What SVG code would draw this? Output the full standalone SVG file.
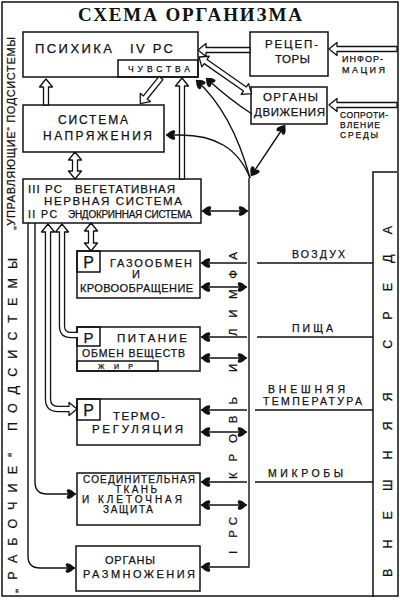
<svg xmlns="http://www.w3.org/2000/svg" width="400" height="600" viewBox="0 0 400 600">
<style>
.b{fill:none;stroke:#111;stroke-width:1.5}
.t{font-family:"Liberation Sans","DejaVu Sans",sans-serif;fill:#111;stroke:#111;stroke-width:0.25}
.l{fill:none;stroke:#111;stroke-width:1.4}
.h{fill:#fff;stroke:#111;stroke-width:1.3;stroke-linejoin:round}
.hs{fill:none;stroke:#111;stroke-width:6.4}
.hi{fill:none;stroke:#fff;stroke-width:3.8}
</style>
<defs>
<marker id="ar" viewBox="-10 -6 11 12" refX="0" refY="0" markerWidth="11" markerHeight="12" markerUnits="userSpaceOnUse" orient="auto-start-reverse">
<path d="M0,0 C-2,-2 -5,-5 -8,-4.8 C-10,-4.5 -9.5,-1.5 -7,0 C-9.5,1.5 -10,4.5 -8,4.8 C-5,5 -2,2 0,0 Z" fill="#111"/>
</marker>
</defs>
<rect x="2" y="2" width="396" height="594" class="b"/>
<text x="78" y="21" textLength="224" font-family="Liberation Serif, serif" font-weight="bold" font-size="19" fill="#111">СХЕМА ОРГАНИЗМА</text>
<text class="t" font-size="11" textLength="193" transform="translate(15,230) rotate(-90)">„УПРАВЛЯЮЩИЕ“ ПОДСИСТЕМЫ</text>
<text class="t" font-size="12.5" textLength="335" transform="translate(17,593) rotate(-90)">„РАБОЧИЕ“ ПОДСИСТЕМЫ</text>

<g id="psychika">
<rect x="23" y="32" width="175" height="45" class="b"/>
<rect x="118" y="60" width="80" height="17" class="b"/>
<text class="t" x="35" y="53" font-size="13" textLength="77">ПСИХИКА</text>
<text class="t" x="130" y="53" font-size="13" textLength="43">IV РС</text>
<text class="t" x="128" y="72" font-size="8.5" textLength="62">ЧУВСТВА</text>
</g>
<g id="receptors">
<rect x="250" y="32" width="78" height="44" class="b"/>
<text class="t" x="265" y="48" font-size="11.5" textLength="53">РЕЦЕП-</text>
<text class="t" x="275" y="63" font-size="11.5" textLength="35">ТОРЫ</text>
</g>
<g id="motion">
<rect x="251" y="87" width="76" height="37" class="b"/>
<text class="t" x="263" y="101" font-size="11.5" textLength="55">ОРГАНЫ</text>
<text class="t" x="254" y="116" font-size="11.5" textLength="71">ДВИЖЕНИЯ</text>
</g>
<g id="tension">
<rect x="23" y="105" width="141" height="47" class="b"/>
<text class="t" x="58" y="124" font-size="12" textLength="70">СИСТЕМА</text>
<text class="t" x="43" y="140" font-size="12" textLength="109">НАПРЯЖЕНИЯ</text>
</g>
<g id="vns">
<rect x="23" y="179" width="178" height="44" class="b"/>
<text class="t" x="28" y="193" font-size="11.5" textLength="34">III РС</text>
<text class="t" x="75" y="193" font-size="11.5" textLength="100">ВЕГЕТАТИВНАЯ</text>
<text class="t" x="44" y="205" font-size="11.5" textLength="138">НЕРВНАЯ СИСТЕМА</text>
<text class="t" x="28" y="218" font-size="10.5" textLength="29">II РС</text>
<text class="t" x="68" y="218" font-size="10" textLength="124">ЭНДОКРИННАЯ СИСТЕМА</text>
</g>
<g id="gas">
<rect x="77" y="251" width="123" height="47" class="b"/>
<rect x="77" y="251" width="23" height="21" class="b"/>
<text class="t" x="88.5" y="268" font-size="16" text-anchor="middle">Р</text>
<text class="t" x="110" y="267" font-size="11" textLength="82">ГАЗООБМЕН</text>
<text class="t" x="136" y="278" font-size="11" text-anchor="middle">И</text>
<text class="t" x="80" y="292" font-size="11" textLength="113">КРОВООБРАЩЕНИЕ</text>
</g>
<g id="food">
<rect x="77" y="327" width="123" height="44" class="b"/>
<rect x="77" y="327" width="23" height="19" class="b"/>
<rect x="77" y="361" width="81" height="10" class="b"/>
<text class="t" x="88.5" y="343" font-size="15" text-anchor="middle">Р</text>
<text class="t" x="117" y="342" font-size="11.5" textLength="70">ПИТАНИЕ</text>
<text class="t" x="82" y="357" font-size="10.5" textLength="103">ОБМЕН ВЕЩЕСТВ</text>
<text class="t" x="98" y="369" font-size="7" textLength="35">ЖИР</text>
</g>
<g id="thermo">
<rect x="77" y="399" width="123" height="46" class="b"/>
<rect x="77" y="399" width="23" height="21" class="b"/>
<text class="t" x="88.5" y="416" font-size="16" text-anchor="middle">Р</text>
<text class="t" x="113" y="420" font-size="11.5" textLength="52">ТЕРМО-</text>
<text class="t" x="92" y="433" font-size="11.5" textLength="91">РЕГУЛЯЦИЯ</text>
</g>
<g id="tissue">
<rect x="77" y="473" width="123" height="52" class="b"/>
<text class="t" x="83" y="483" font-size="10" textLength="112">СОЕДИНИТЕЛЬНАЯ</text>
<text class="t" x="115" y="493" font-size="10" textLength="42">ТКАНЬ</text>
<text class="t" x="82" y="503" font-size="10" textLength="100">И КЛЕТОЧНАЯ</text>
<text class="t" x="103" y="513" font-size="10" textLength="50">ЗАЩИТА</text>
</g>
<g id="reproduction">
<rect x="76" y="546" width="124" height="45" class="b"/>
<text class="t" x="105" y="564" font-size="11" textLength="50">ОРГАНЫ</text>
<text class="t" x="83" y="578" font-size="11" textLength="112">РАЗМНОЖЕНИЯ</text>
</g>
<g id="environment">
<path d="M373,597 V172 H397" class="b"/>
<text class="t" font-size="12.5" textLength="351" transform="translate(392,577) rotate(-90)">ВНЕШНЯЯ СРЕДА</text>
</g>
<g id="bus-labels">
<text class="t" font-size="11.5" textLength="84" transform="translate(237,336) rotate(-90)">ЛИМФА</text>
<text class="t" font-size="11.5" transform="translate(237,372) rotate(-90)">И</text>
<text class="t" font-size="11.5" textLength="82" transform="translate(237,479) rotate(-90)">КРОВЬ</text>
<text class="t" font-size="11.5" textLength="37" transform="translate(237,554) rotate(-90)">I РС</text>
</g>
<g id="env-labels">
<text class="t" x="292" y="258" font-size="10.5" textLength="53">ВОЗДУХ</text>
<text class="t" x="292" y="332" font-size="10.5" textLength="41">ПИЩА</text>
<text class="t" x="268" y="393" font-size="10.5" textLength="77">ВНЕШНЯЯ</text>
<text class="t" x="263" y="405" font-size="10.5" textLength="99">ТЕМПЕРАТУРА</text>
<text class="t" x="268" y="477" font-size="10.5" textLength="75">МИКРОБЫ</text>
<text class="t" x="342" y="62" font-size="9" textLength="41">ИНФОР-</text>
<text class="t" x="342" y="73" font-size="9" textLength="43">МАЦИЯ</text>
<text class="t" x="340" y="118" font-size="8.5" textLength="48">СОПРОТИ-</text>
<text class="t" x="340" y="128" font-size="8.5" textLength="40">ВЛЕНИЕ</text>
<text class="t" x="340" y="138" font-size="8.5" textLength="38">СРЕДЫ</text>
</g>

<g id="connectors">
<path class="h" transform="translate(46,105) rotate(-90)" d="M0,-2.5 H18 V-6.5 L26,0 L18,6.5 V2.5 H0 Z"/>
<path class="h" transform="translate(161,78) rotate(128.9)" d="M0,-2.5 H25 V-6.5 L33,0 L25,6.5 V2.5 H0 Z"/>
<path class="h" transform="translate(182,179) rotate(-90)" d="M0,-2.5 H93 V-6.5 L101,0 L93,6.5 V2.5 H0 Z"/>
<path class="h" transform="translate(75,152) rotate(90)" d="M0,0 L8,-6.5 V-2.5 H19 V-6.5 L27,0 L19,6.5 V2.5 H8 V6.5 Z"/>
<path class="h" transform="translate(250,50) rotate(180)" d="M0,-2.5 H44 V-6.5 L52,0 L44,6.5 V2.5 H0 Z"/>
<path class="h" transform="translate(397,49) rotate(180)" d="M0,-2.5 H60 V-6.5 L68,0 L60,6.5 V2.5 H0 Z"/>
<path class="h" transform="translate(397,105) rotate(180)" d="M0,-2.5 H60 V-6.5 L68,0 L60,6.5 V2.5 H0 Z"/>
<path class="h" transform="translate(199,57) rotate(34.9)" d="M0,0 L8,-6.5 V-2.5 H56 V-6.5 L64,0 L56,6.5 V2.5 H8 V6.5 Z"/>
<path class="h" transform="translate(91,223) rotate(90)" d="M0,0 L8,-6.5 V-2.5 H20 V-6.5 L28,0 L20,6.5 V2.5 H8 V6.5 Z"/>
<path class="hs" d="M77,335 H71 Q62,335 62,326 V232"/>
<path class="h" d="M62,224 L68.5,232 H55.5 Z"/>
<path class="hi" d="M78,335 H71 Q62,335 62,326 V229"/>
<path class="hs" d="M48,232 V399 Q48,409 58,409 H69"/>
<path class="h" d="M48,224 L54.5,232 H41.5 Z"/>
<path class="h" d="M77,409 L69,402.5 V415.5 Z"/>
<path class="hi" d="M48,229 V399 Q48,409 58,409 H72"/>
<path class="l" d="M250,178 Q232,112 196,80" marker-end="url(#ar)"/>
<path class="l" d="M252,114 Q230,100 206,78" marker-end="url(#ar)"/>
<path class="l" d="M250,178 C238,148 215,135 180,135 H166" marker-end="url(#ar)"/>
<path class="l" d="M251,176 L285,125" marker-start="url(#ar)" marker-end="url(#ar)"/>
<path class="l" d="M202,211 H248" marker-start="url(#ar)" marker-end="url(#ar)"/>
<path class="l" d="M249,178 V567 H201" marker-end="url(#ar)"/>
<path class="l" d="M247,263 H201" marker-end="url(#ar)"/>
<path class="l" d="M201,287 H247" marker-start="url(#ar)" marker-end="url(#ar)"/>
<path class="l" d="M247,337 H201" marker-end="url(#ar)"/>
<path class="l" d="M201,358 H247" marker-start="url(#ar)" marker-end="url(#ar)"/>
<path class="l" d="M247,410 H201" marker-end="url(#ar)"/>
<path class="l" d="M201,432 H247" marker-start="url(#ar)" marker-end="url(#ar)"/>
<path class="l" d="M247,482 H201" marker-end="url(#ar)"/>
<path class="l" d="M201,505 H247" marker-start="url(#ar)" marker-end="url(#ar)"/>
<path class="l" d="M35,223 V482 Q35,494 47,494 H76" marker-end="url(#ar)"/>
<path class="l" d="M28,223 V556 Q28,568 40,568 H75" marker-end="url(#ar)"/>
<path class="l" d="M257,263 H373 M257,337 H373 M255,410 H373 M255,482 H373"/>
</g>
</svg>
